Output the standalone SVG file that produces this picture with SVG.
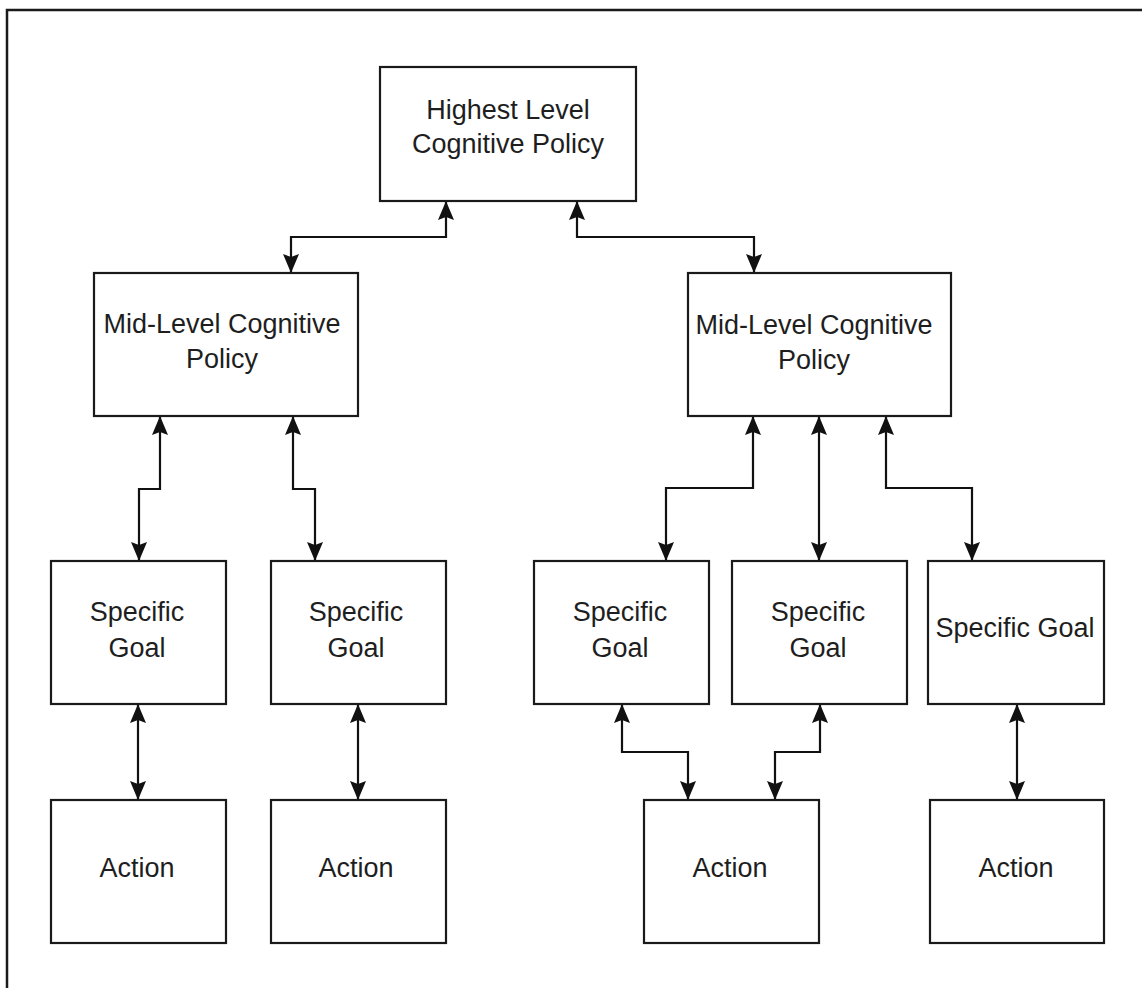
<svg xmlns="http://www.w3.org/2000/svg" width="1142" height="988" viewBox="0 0 1142 988">
  <style>
    .box { fill: #ffffff; stroke: #1a1a1a; stroke-width: 2.2; }
    .lbl { font-family: "Liberation Sans", Arial, sans-serif; font-size: 27px; fill: #1e1e1e; text-anchor: middle; }
    .edge { fill: none; stroke: #111111; stroke-width: 2.2; marker-start: url(#arrow); marker-end: url(#arrow); }
  </style>
  <defs>
    <marker id="arrow" markerUnits="userSpaceOnUse" markerWidth="24" markerHeight="20" viewBox="-20 -10 24 20" refX="0" refY="0" orient="auto-start-reverse">
      <path d="M0,0 L-19,-8 L-16,0 L-19,8 Z" fill="#111111"/>
    </marker>
  </defs>

  <rect width="1142" height="988" fill="#ffffff"/>
  <!-- page frame (left and top edges) -->
  <path d="M7,988 V10 H1142" fill="none" stroke="#1a1a1a" stroke-width="2.5"/>

  <g id="connectors">
    <path class="edge" d="M446,201 V237 H291 V273"/>
    <path class="edge" d="M577,201 V237 H754 V273"/>
    <path class="edge" d="M160,416 V489 H139 V561"/>
    <path class="edge" d="M293,416 V489 H315 V561"/>
    <path class="edge" d="M753,416 V488 H666 V561"/>
    <path class="edge" d="M819,416 V561"/>
    <path class="edge" d="M886,416 V488 H972 V561"/>
    <path class="edge" d="M138,704 V800"/>
    <path class="edge" d="M358,704 V800"/>
    <path class="edge" d="M622,704 V752 H688 V800"/>
    <path class="edge" d="M820,704 V752 H775 V800"/>
    <path class="edge" d="M1017,704 V800"/>
  </g>

  <g id="highest-policy">
    <rect class="box" x="380" y="67" width="256" height="134"/>
    <text class="lbl" x="508" y="119">Highest Level</text>
    <text class="lbl" x="508" y="153">Cognitive Policy</text>
  </g>

  <g id="mid-policy-left">
    <rect class="box" x="94" y="273" width="264" height="143"/>
    <text class="lbl" x="222" y="333">Mid-Level Cognitive</text>
    <text class="lbl" x="222" y="368">Policy</text>
  </g>
  <g id="mid-policy-right">
    <rect class="box" x="688" y="273" width="263" height="143"/>
    <text class="lbl" x="814" y="334">Mid-Level Cognitive</text>
    <text class="lbl" x="814" y="369">Policy</text>
  </g>

  <g id="goal-1">
    <rect class="box" x="51" y="561" width="175" height="143"/>
    <text class="lbl" x="137" y="621">Specific</text>
    <text class="lbl" x="137" y="657">Goal</text>
  </g>
  <g id="goal-2">
    <rect class="box" x="271" y="561" width="175" height="143"/>
    <text class="lbl" x="356" y="621">Specific</text>
    <text class="lbl" x="356" y="657">Goal</text>
  </g>
  <g id="goal-3">
    <rect class="box" x="534" y="561" width="175" height="143"/>
    <text class="lbl" x="620" y="621">Specific</text>
    <text class="lbl" x="620" y="657">Goal</text>
  </g>
  <g id="goal-4">
    <rect class="box" x="732" y="561" width="175" height="143"/>
    <text class="lbl" x="818" y="621">Specific</text>
    <text class="lbl" x="818" y="657">Goal</text>
  </g>
  <g id="goal-5">
    <rect class="box" x="928" y="561" width="176" height="143"/>
    <text class="lbl" x="1015" y="637">Specific Goal</text>
  </g>

  <g id="action-1">
    <rect class="box" x="51" y="800" width="175" height="143"/>
    <text class="lbl" x="137" y="877">Action</text>
  </g>
  <g id="action-2">
    <rect class="box" x="271" y="800" width="175" height="143"/>
    <text class="lbl" x="356" y="877">Action</text>
  </g>
  <g id="action-3">
    <rect class="box" x="644" y="800" width="175" height="143"/>
    <text class="lbl" x="730" y="877">Action</text>
  </g>
  <g id="action-4">
    <rect class="box" x="930" y="800" width="174" height="143"/>
    <text class="lbl" x="1016" y="877">Action</text>
  </g>
</svg>
